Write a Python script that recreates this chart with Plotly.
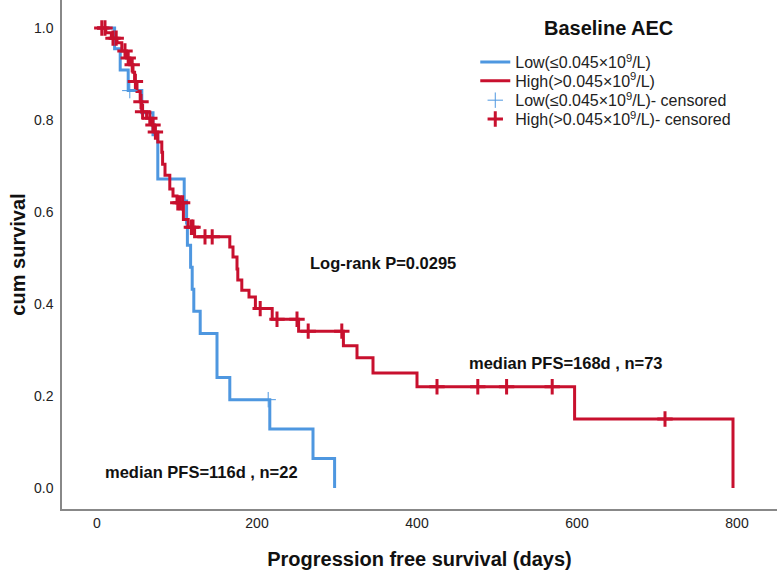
import numpy as np
import plotly.graph_objects as go

# Kaplan-Meier steps (days, survival after the event)
low_days = [0, 22, 29, 39, 56, 70, 76, 109, 112, 113, 117, 119, 121, 129, 150, 166, 216, 270, 297]
low_surv = [1.0, 0.955, 0.909, 0.864, 0.816, 0.768, 0.672, 0.624, 0.576, 0.528, 0.48, 0.432,
            0.384, 0.336, 0.24, 0.192, 0.128, 0.064, 0.0]
low_censored = [41, 214]

high_days = [0, 11, 18, 25, 31, 37, 41, 45, 47, 50, 54, 56, 62, 69, 72, 76, 81, 82, 85, 91, 95,
             100, 108, 114, 122, 166, 170, 175, 176, 181, 190, 198, 219, 252, 308, 325, 345,
             400, 597, 795]
high_surv = [1.0, 0.99, 0.978, 0.968, 0.95, 0.935, 0.92, 0.904, 0.884, 0.862, 0.84, 0.818, 0.804,
             0.789, 0.774, 0.752, 0.73, 0.704, 0.68, 0.65, 0.635, 0.62, 0.584, 0.567, 0.546,
             0.524, 0.502, 0.476, 0.452, 0.43, 0.415, 0.39, 0.367, 0.341, 0.309, 0.283, 0.25,
             0.22, 0.15, 0.0]
high_censored = [6, 10, 20, 24, 35, 39, 44, 48, 55, 57, 66, 70, 73, 101, 104, 107, 118, 120,
                 135, 144, 204, 225, 250, 264, 306, 425, 476, 512, 569, 710]

low_name = "Low(≤0.045×10<sup>9</sup>/L)"
high_name = "High(>0.045×10<sup>9</sup>/L)"

BLUE = "#4E97E0"
RED = "#C8102E"
FONT = "Liberation Sans, Arial, sans-serif"


def surv_at(days, surv, t):
    # value of the step function at time t
    idx = np.searchsorted(np.array(days), np.array(t), side="right") - 1
    return np.array(surv)[idx]


fig = go.Figure()

fig.add_trace(go.Scatter(x=low_days, y=low_surv, mode="lines", line_shape="hv",
                         line=dict(color=BLUE, width=3), name=low_name, legend="legend",
                         showlegend=True))
fig.add_trace(go.Scatter(x=high_days, y=high_surv, mode="lines", line_shape="hv",
                         line=dict(color=RED, width=3), name=high_name, legend="legend2",
                         showlegend=True))
fig.add_trace(go.Scatter(x=low_censored, y=surv_at(low_days, low_surv, low_censored),
                         mode="markers", name=low_name + "- censored", legend="legend3",
                         showlegend=True,
                         marker=dict(symbol="cross-thin", size=11,
                                     line=dict(color=BLUE, width=1))))
fig.add_trace(go.Scatter(x=high_censored, y=surv_at(high_days, high_surv, high_censored),
                         mode="markers", name=high_name + "- censored", legend="legend4",
                         showlegend=True,
                         marker=dict(symbol="cross-thin", size=11,
                                     line=dict(color=RED, width=3))))

annotations = [
    dict(x=357, y=0.49, text="<b>Log-rank P=0.0295</b>"),
    dict(x=586, y=0.272, text="<b>median PFS=168d , n=73</b>"),
    dict(x=130, y=0.035, text="<b>median PFS=116d , n=22</b>"),
]
for a in annotations:
    fig.add_annotation(x=a["x"], y=a["y"], text=a["text"], showarrow=False,
                       font=dict(family=FONT, size=16.5, color="#111"))

# legend title as a separate label so it sits higher above the entries, like the original
fig.add_annotation(x=0.764, y=0.945, xref="paper", yref="paper", xanchor="center",
                   yanchor="middle", showarrow=False, text="<b>Baseline AEC</b>",
                   font=dict(family=FONT, size=20, color="#111"))

# one legend per entry so the rows can sit as tight as in the original
legend_rows = {"legend": 0.878, "legend2": 0.841, "legend3": 0.803, "legend4": 0.766}
legends = {}
for key, ypos in legend_rows.items():
    legends[key] = dict(x=0.578, y=ypos, xanchor="left", yanchor="middle", itemwidth=30,
                        font=dict(family=FONT, size=16, color="#222"),
                        bgcolor="rgba(0,0,0,0)")

fig.update_layout(
    width=777, height=572,
    margin=dict(l=62, r=0, t=0, b=63),
    paper_bgcolor="white", plot_bgcolor="white",
    font=dict(family=FONT, color="#222"),
    showlegend=True,
    **legends,
    xaxis=dict(
        range=[-43.75, 850], tickvals=[0, 200, 400, 600, 800], automargin=False,
        showgrid=False, zeroline=False, showline=True, linecolor="#888", linewidth=1.5,
        ticks="", tickfont=dict(family=FONT, size=14, color="#222"),
        title=dict(text="<b>Progression free survival (days)</b>", standoff=22,
                   font=dict(family=FONT, size=20, color="#111")),
    ),
    yaxis=dict(
        range=[-0.0457, 1.061], tickvals=[0, 0.2, 0.4, 0.6, 0.8, 1.0], tickformat=".1f",
        automargin=False,
        showgrid=False, zeroline=False, showline=True, linecolor="#888", linewidth=1.5,
        ticks="", ticklabelstandoff=4, tickfont=dict(family=FONT, size=14, color="#222"),
        title=dict(text="<b>cum survival</b>", standoff=3,
                   font=dict(family=FONT, size=20, color="#111")),
    ),
)

# drop the page's default body margin so the chart fills the window from the corner
fig.write_html("out.html", config={"displayModeBar": False},
               post_script="document.body.style.margin='0';")
